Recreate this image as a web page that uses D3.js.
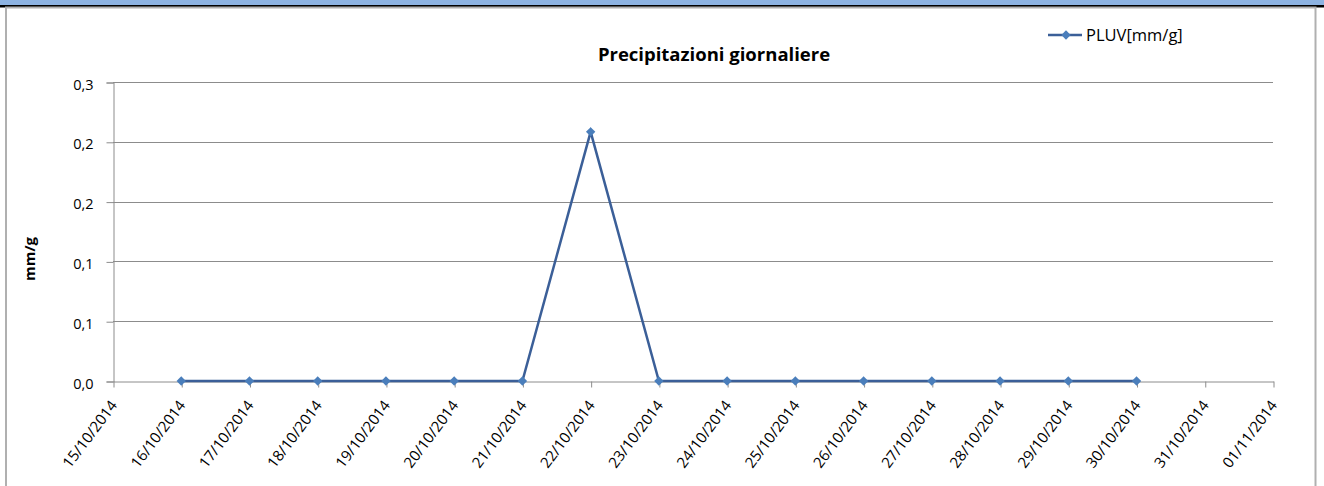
<!DOCTYPE html>
<html>
<head>
<meta charset="utf-8">
<title>Precipitazioni giornaliere</title>
<script src="https://d3js.org/d3.v7.min.js"></script>
<style>
  body { margin:0; background:#fff; font-family:"Open Sans", "Noto Sans", sans-serif; }
  svg text { fill:#000; }
</style>
</head>
<body>
<svg id="chart" width="1324" height="486"></svg>
<script>
// categories on the x axis (one per day)
const dayLabels = ["15/10/2014","16/10/2014","17/10/2014","18/10/2014","19/10/2014","20/10/2014",
  "21/10/2014","22/10/2014","23/10/2014","24/10/2014","25/10/2014","26/10/2014","27/10/2014",
  "28/10/2014","29/10/2014","30/10/2014","31/10/2014","01/11/2014"];
// daily rainfall, PLUV[mm/g]
const pluvDays = ["16/10/2014","17/10/2014","18/10/2014","19/10/2014","20/10/2014","21/10/2014",
  "22/10/2014","23/10/2014","24/10/2014","25/10/2014","26/10/2014","27/10/2014","28/10/2014",
  "29/10/2014","30/10/2014"];
const pluvValues = [0,0,0,0,0,0,0.25,0,0,0,0,0,0,0,0];
const yTicks = [0,0.06,0.12,0.18,0.24,0.3];

const svg = d3.select("#chart");
const W = 1324, H = 486;
const plot = {left:113, right:1273, top:82, bottom:381};

// page frame: blue banner, black rule, chart border
svg.append("rect").attr("x",0).attr("y",0).attr("width",W).attr("height",6).attr("fill","#8db3e2");
svg.append("rect").attr("x",0).attr("y",5).attr("width",W).attr("height",2.5).attr("fill","#000");
svg.append("rect").attr("x",6).attr("y",7.5).attr("width",1309.5).attr("height",H).attr("fill","none")
  .attr("stroke","#b0b0b0").attr("stroke-width",2);

const x = d3.scalePoint().domain(dayLabels).range([plot.left, plot.right]);
const y = d3.scaleLinear().domain([0,0.3]).range([plot.bottom, plot.top]);
const fmt = d => d3.format(".1f")(d).replace(".", ",");

// gridlines
svg.append("g").selectAll("line").data(yTicks.slice(1)).join("line")
  .attr("x1",plot.left).attr("x2",plot.right)
  .attr("y1",d => Math.round(y(d))+0.5).attr("y2",d => Math.round(y(d))+0.5)
  .attr("stroke","#8c8c8c").attr("stroke-width",1);

// y axis
const yAxis = svg.append("g").attr("transform","translate(" + (plot.left+0.5) + ",0.5)")
  .call(d3.axisLeft(y).tickValues(yTicks).tickFormat(fmt).tickSize(7).tickPadding(13));
yAxis.select(".domain").attr("stroke","#8c8c8c");
yAxis.selectAll(".tick line").attr("stroke","#8c8c8c");
yAxis.selectAll(".tick text").style("font-size","14.5px").style("font-family","Open Sans, sans-serif")
  .attr("dy","0.45em");

// x axis
const xAxis = svg.append("g").attr("transform","translate(0.5," + (plot.bottom+0.5) + ")")
  .call(d3.axisBottom(x).tickSize(6).tickSizeOuter(0));
xAxis.select(".domain").attr("stroke","#8c8c8c");
xAxis.selectAll(".tick line").attr("stroke","#8c8c8c");
xAxis.selectAll(".tick text")
  .style("font-size","15px").style("font-family","Open Sans, sans-serif")
  .attr("text-anchor","end").attr("dy","0")
  .attr("transform","translate(4,24) rotate(-53)").attr("x",0).attr("y",0);

// series
const pts = pluvDays.map((d,i) => [x(d), y(pluvValues[i])]);
svg.append("path").datum(pts)
  .attr("d", d3.line())
  .attr("fill","none").attr("stroke","#3b5f98").attr("stroke-width",2.5);
const diamond = d3.symbol().type(d3.symbolDiamond2).size(56);
svg.append("g").selectAll("path").data(pts).join("path")
  .attr("transform", d => "translate(" + d[0] + "," + d[1] + ")")
  .attr("d", diamond).attr("fill","#4a7ebb");

// title
svg.append("text").attr("x",714).attr("y",61).attr("text-anchor","middle")
  .style("font-size","18.5px").style("font-weight","bold").text("Precipitazioni giornaliere");
// y title
svg.append("text").attr("transform","translate(35,259) rotate(-90)").attr("text-anchor","middle")
  .style("font-size","15px").style("font-weight","bold").text("mm/g");

// legend
svg.append("line").attr("x1",1048).attr("x2",1082).attr("y1",35).attr("y2",35)
  .attr("stroke","#3b5f98").attr("stroke-width",2.5);
svg.append("path").attr("transform","translate(1066,35)").attr("d",diamond).attr("fill","#4a7ebb");
svg.append("text").attr("x",1086).attr("y",40.5).style("font-size","16.5px").text("PLUV[mm/g]");
</script>
</body>
</html>
